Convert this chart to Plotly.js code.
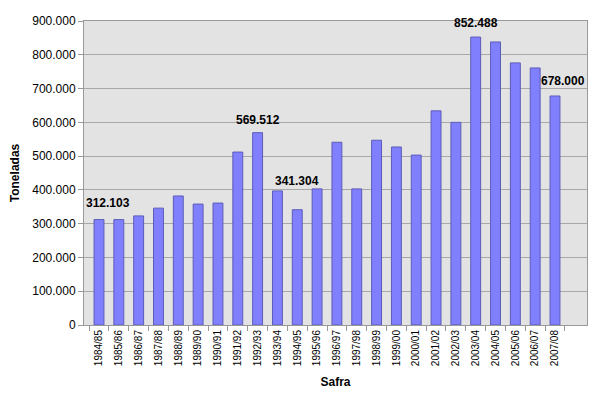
<!DOCTYPE html>
<html>
<head>
<meta charset="utf-8">
<script src="https://cdn.plot.ly/plotly-3.0.1.min.js"></script>
<style>html,body{margin:0;padding:0;background:#fff}#chart{width:610px;height:399px}</style>
</head>
<body>
<div id="chart"></div>
<script>
const safras = ["1984/85","1985/86","1986/87","1987/88","1988/89","1989/90","1990/91","1991/92","1992/93","1993/94","1994/95","1995/96","1996/97","1997/98","1998/99","1999/00","2000/01","2001/02","2002/03","2003/04","2004/05","2005/06","2006/07","2007/08"];
const toneladas = [312103,312000,323000,346000,382000,358000,361000,512000,569512,397000,341304,403000,541000,403000,547000,527000,503000,634000,600000,852488,838000,776000,761000,678000];
const labeledSafras = ["1984/85","1992/93","1994/95","2003/04","2007/08"];
const labelXShift = [9,0,0,0,8];
const labelYShift = [8,4,20,5,6];
const yTicks = [0,100000,200000,300000,400000,500000,600000,700000,800000,900000];

function fmt(v){ return String(v).replace(/\B(?=(\d{3})+(?!\d))/g, "."); }

const annotations = labeledSafras.map((s,i)=>{
  const idx = safras.indexOf(s);
  return {
    x: s, y: toneladas[idx], xref:'x', yref:'y',
    text: fmt(toneladas[idx]), showarrow:false,
    yanchor:'bottom', xanchor:'center',
    xshift: labelXShift[i], yshift: labelYShift[i],
    font:{family:'Liberation Sans, Arial, sans-serif', size:12, color:'#000', weight:'bold'}
  };
});

const trace = {
  type:'bar', x: safras, y: toneladas,
  marker:{color:'#8080ff', line:{color:'#5c5cb8', width:1}},
  hoverinfo:'skip'
};

const layout = {
  width:610, height:399,
  margin:{l:84, r:23, t:21, b:74},
  paper_bgcolor:'#ffffff', plot_bgcolor:'#e3e3e3',
  separators:',.',
  bargap:0.5,
  showlegend:false,
  font:{family:'Liberation Sans, Arial, sans-serif', color:'#000'},
  xaxis:{
    type:'category', tickangle:-90, ticks:'outside', tickson:'boundaries',
    ticklen:5, tickcolor:'#999', showline:true, linecolor:'#999', mirror:true,
    showgrid:false, tickfont:{size:10, color:'#000'},
    title:{text:'Safra', font:{size:12, weight:'bold'}, standoff:12}
  },
  yaxis:{
    range:[0,900000], tickvals:yTicks, tickformat:',d', ticks:'outside', ticklen:5,
    tickcolor:'#999', showline:true, linecolor:'#999', mirror:true,
    gridcolor:'#a8a8a8', gridwidth:1, zeroline:false,
    tickfont:{size:12, color:'#000'},
    title:{text:'Toneladas', font:{size:12, weight:'bold'}, standoff:10}
  },
  annotations: annotations
};

Plotly.newPlot('chart',[trace],layout,{staticPlot:true, displayModeBar:false});
</script>
</body>
</html>
